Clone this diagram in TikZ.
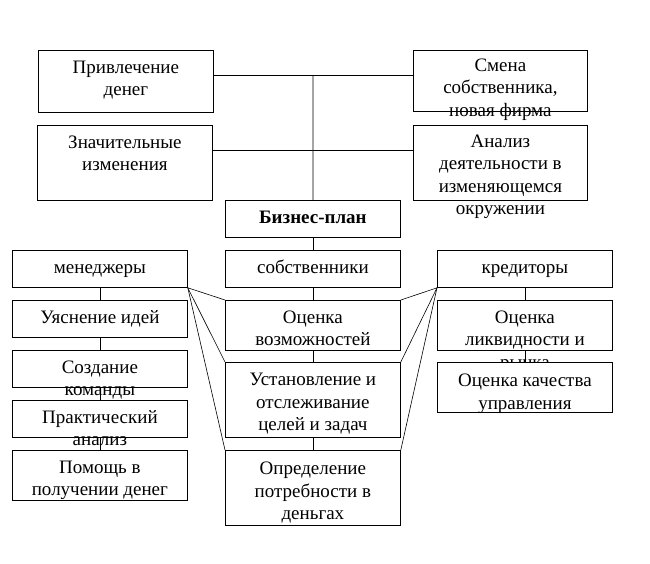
\documentclass[tikz,border=0pt]{standalone}
\usepackage{fontspec}
\setmainfont{Liberation Serif}
\begin{document}
\begin{tikzpicture}[x=1pt,y=-1pt,
  box/.style={draw, fill=white, line width=0.8pt, inner sep=0pt, anchor=north west},
  lbl/.style={inner sep=0pt, anchor=base, font=\fontsize{19}{22.5}\selectfont},
  conn/.style={line width=0.8pt},
  diag/.style={line width=0.6pt}]
\useasboundingbox (0,0) rectangle (650,563);
\newcommand\boxtext[1]{\parbox[t]{190pt}{\centering #1}}
% top row
\node[box, minimum width=175pt, minimum height=62pt] (b1) at (38,50) {};
\node[lbl] (tb1) at ([yshift=-23pt]b1.north) {\boxtext{Привлечение\\денег}};
\node[box, minimum width=175pt, minimum height=75pt] (b2) at (37,125) {};
\node[lbl] (tb2) at ([yshift=-23pt]b2.north) {\boxtext{Значительные\\изменения}};
\node[box, minimum width=174pt, minimum height=61pt] (b3) at (413,50) {};
\node[lbl] (tb3) at ([yshift=-21pt]b3.north) {\boxtext{Смена\\собственника,\\новая фирма}};
\node[box, minimum width=174pt, minimum height=75pt] (b4) at (413,125) {};
\node[lbl] (tb4) at ([yshift=-22pt]b4.north) {\boxtext{Анализ\\деятельности в\\изменяющемся\\окружении}};
\node[box, minimum width=175pt, minimum height=37pt] (bp) at (225,200) {};
\node[lbl] (tbp) at ([yshift=-23pt]bp.north) {\boxtext{\textbf{Бизнес-план}}};
% left column
\node[box, minimum width=175pt, minimum height=37pt] (m0) at (12,250) {};
\node[lbl] (tm0) at ([yshift=-23pt]m0.north) {\boxtext{менеджеры}};
\node[box, minimum width=175pt, minimum height=37pt] (m1) at (12,300) {};
\node[lbl] (tm1) at ([yshift=-23pt]m1.north) {\boxtext{Уяснение идей}};
\node[box, minimum width=175pt, minimum height=37pt] (m2) at (12,350) {};
\node[lbl] (tm2) at ([yshift=-23pt]m2.north) {\boxtext{Создание\\команды}};
\node[box, minimum width=175pt, minimum height=37pt] (m3) at (12,400) {};
\node[lbl] (tm3) at ([yshift=-23pt]m3.north) {\boxtext{Практический\\анализ}};
\node[box, minimum width=175pt, minimum height=50pt] (m4) at (12,450) {};
\node[lbl] (tm4) at ([yshift=-23pt]m4.north) {\boxtext{Помощь в\\получении денег}};
% middle column
\node[box, minimum width=175pt, minimum height=37pt] (s0) at (225,250) {};
\node[lbl] (ts0) at ([yshift=-23pt]s0.north) {\boxtext{собственники}};
\node[box, minimum width=175pt, minimum height=50pt] (s1) at (225,300) {};
\node[lbl] (ts1) at ([yshift=-23pt]s1.north) {\boxtext{Оценка\\возможностей}};
\node[box, minimum width=175pt, minimum height=75pt] (s2) at (225,362) {};
\node[lbl] (ts2) at ([yshift=-23.5pt]s2.north) {\boxtext{Установление и\\отслеживание\\целей и задач}};
\node[box, minimum width=175pt, minimum height=75pt] (s3) at (225,450) {};
\node[lbl] (ts3) at ([yshift=-24.5pt]s3.north) {\boxtext{Определение\\потребности в\\деньгах}};
% right column
\node[box, minimum width=175pt, minimum height=37pt] (k0) at (437,250) {};
\node[lbl] (tk0) at ([yshift=-23pt]k0.north) {\boxtext{кредиторы}};
\node[box, minimum width=175pt, minimum height=50pt] (k1) at (437,300) {};
\node[lbl] (tk1) at ([yshift=-23pt]k1.north) {\boxtext{Оценка\\ликвидности и\\рынка}};
\node[box, minimum width=175pt, minimum height=50pt] (k2) at (437,362) {};
\node[lbl] (tk2) at ([yshift=-24.5pt]k2.north) {\boxtext{Оценка качества\\управления}};
% trunk connectors
\coordinate (j1) at (313,75);
\coordinate (j2) at (313,150);
\draw[conn] (b1.east|-j1) -- (b3.west|-j1);
\draw[conn] (b2.east|-j2) -- (b4.west|-j2);
\draw[conn] (j1) -- (bp.north);
\draw[conn] (bp.south) -- (s0.north);
% columns
\draw[conn] (m0.south) -- (m1.north);
\draw[conn] (m1.south) -- (m2.north);
\draw[conn] (m2.south) -- (m3.north);
\draw[conn] (m3.south) -- (m4.north);
\draw[conn] (s0.south) -- (s1.north);
\draw[conn] (s1.south) -- (s2.north);
\draw[conn] (s2.south) -- (s3.north);
\draw[conn] (k0.south) -- (k1.north);
\draw[conn] (k1.south) -- (k2.north);
% diagonals
\draw[diag] (m0.south east) -- (s1.north west);
\draw[diag] (m0.south east) -- (s2.north west);
\draw[diag] (m0.south east) -- (s3.north west);
\draw[diag] (k0.south west) -- (s1.north east);
\draw[diag] (k0.south west) -- (s2.north east);
\draw[diag] (k0.south west) -- (s3.north east);
\end{tikzpicture}
\end{document}
